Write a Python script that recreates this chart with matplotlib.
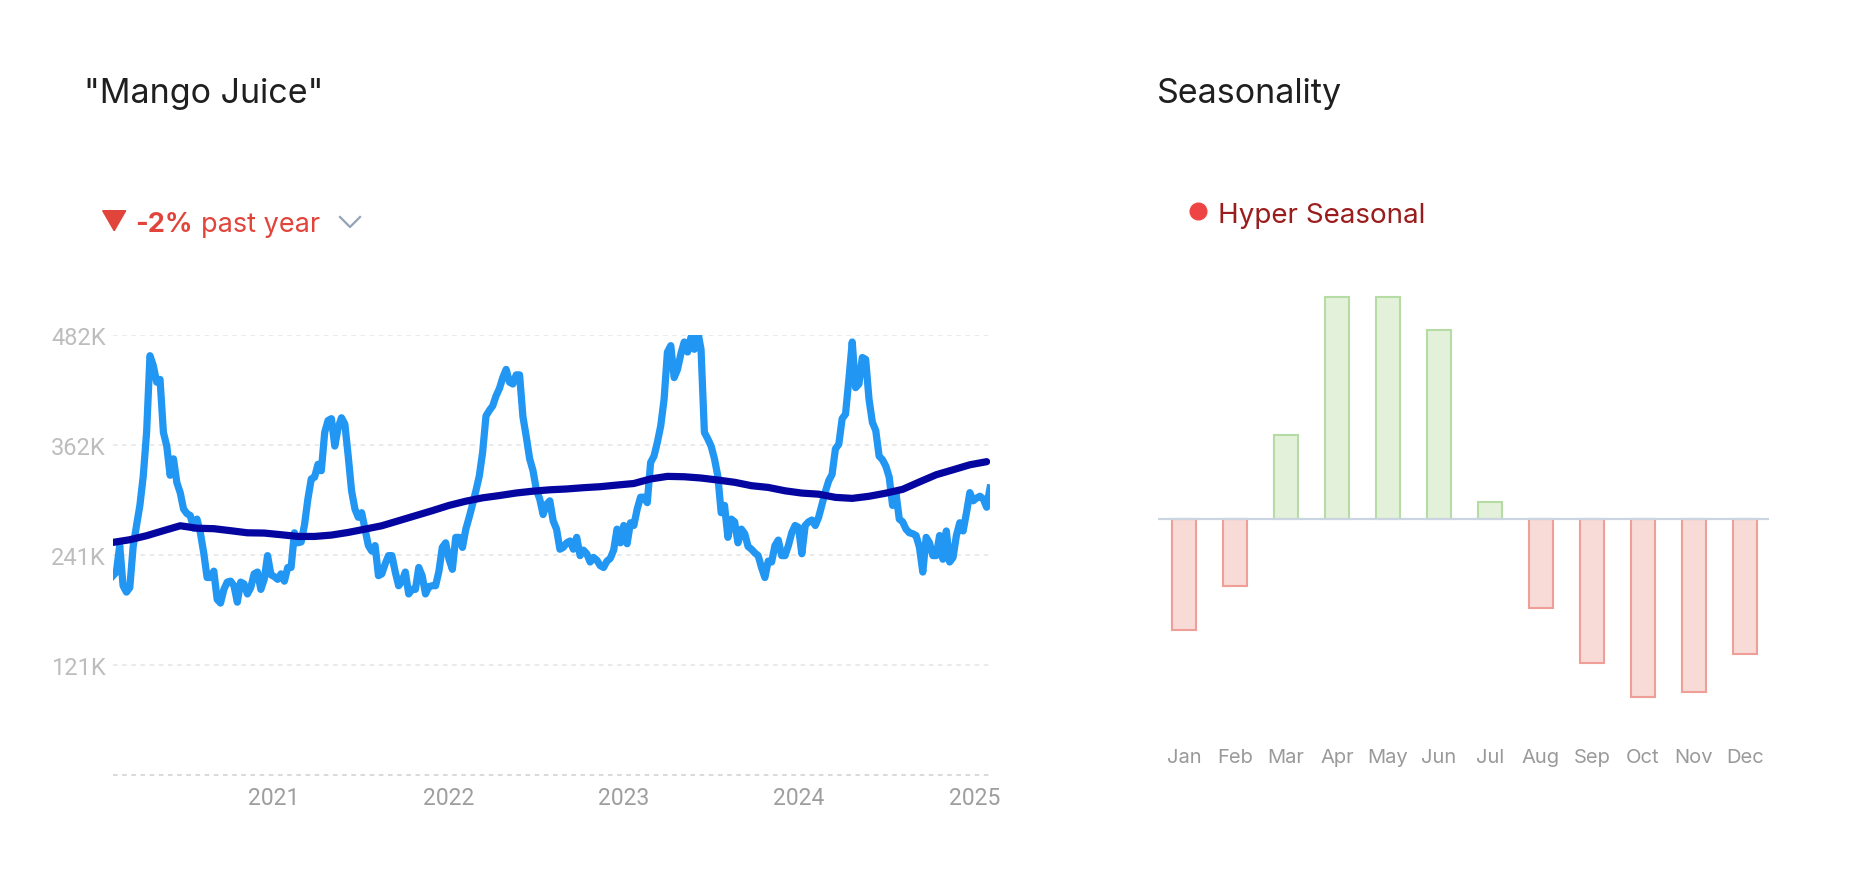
import numpy as np
import pandas as pd
import matplotlib
matplotlib.use("Agg")
import matplotlib.pyplot as plt
import matplotlib.dates as mdates
from matplotlib.patches import Polygon
from matplotlib.lines import Line2D

# --- Data ---
# weekly search volume, in thousands
weekly_volume = [
    218, 222, 251, 207, 200, 205, 250, 273, 295, 327, 375, 459, 448, 430, 433, 375,
    360, 328, 346, 320, 309, 291, 286, 284, 270, 280, 265, 243, 216, 216, 223, 192,
    188, 203, 211, 212, 207, 189, 211, 209, 198, 205, 220, 222, 203, 214, 240, 219,
    217, 214, 220, 212, 227, 227, 265, 254, 255, 274, 302, 324, 326, 340, 333, 375,
    388, 390, 360, 380, 391, 384, 349, 311, 291, 282, 287, 269, 251, 245, 251, 218,
    220, 231, 240, 240, 222, 207, 212, 222, 198, 203, 203, 227, 218, 198, 206, 207,
    207, 223, 249, 254, 236, 225, 260, 260, 249, 269, 282, 296, 311, 327, 353, 393,
    399, 404, 415, 423, 435, 444, 430, 428, 438, 438, 392, 370, 346, 333, 312, 302,
    285, 296, 300, 278, 269, 247, 249, 254, 256, 247, 260, 240, 246, 242, 233, 238,
    235, 229, 227, 234, 237, 246, 269, 254, 273, 253, 276, 273, 291, 304, 304, 298,
    342, 349, 364, 382, 411, 463, 470, 435, 444, 461, 474, 463, 479, 466, 486, 466,
    375, 368, 360, 346, 327, 287, 295, 260, 280, 277, 254, 269, 264, 250, 247, 243,
    240, 227, 216, 234, 233, 251, 257, 240, 240, 251, 265, 273, 271, 242, 273, 277,
    279, 273, 282, 296, 310, 322, 329, 357, 362, 390, 395, 433, 474, 424, 428, 457,
    455, 411, 386, 377, 349, 345, 338, 326, 295, 309, 280, 277, 269, 265, 264, 262,
    249, 222, 260, 254, 240, 240, 262, 236, 267, 233, 238, 262, 276, 267, 287, 309,
    300, 303, 305, 302, 293, 314,
]
# smoothed trend, one value every 5 weeks
trend_volume = [
    254.5, 257.4, 261.8, 267.3, 272.7, 270.0, 269.5, 267.3, 265.0, 264.7, 262.9,
    261.0, 261.0, 262.5, 265.4, 269.0, 272.7, 278.2, 283.7, 289.2, 295.0, 299.6,
    303.3, 305.8, 308.6, 310.6, 312.1, 313.0, 314.4, 315.5, 317.3, 319.0, 324.0,
    326.8, 326.4, 325.0, 322.8, 320.3, 316.6, 314.7, 311.0, 308.5, 307.3, 303.8,
    302.7, 305.0, 308.4, 312.6, 320.7, 328.6, 334.0, 339.5, 342.9,
]
ytick_values = [120.5, 241, 361.5, 482]
ytick_labels = ["121K", "241K", "362K", "482K"]

months = ["Jan", "Feb", "Mar", "Apr", "May", "Jun",
          "Jul", "Aug", "Sep", "Oct", "Nov", "Dec"]
seasonal_index = [-25.0, -15.1, 18.9, 50.0, 50.0, 42.6,
                  3.8, -20.0, -32.4, -40.1, -38.9, -30.3]

dates = pd.date_range("2020-02-02", periods=len(weekly_volume), freq="7D")
trend_dates = dates[::5][:len(trend_volume)]

# --- Figure ---
W, H = 1854, 878
fig = plt.figure(figsize=(W / 100, H / 100), dpi=100)
fig.patch.set_facecolor("white")


def px(x, y):
    """pixel (from top-left) -> figure fraction"""
    return x / W, 1 - y / H


def axes_box(x0, y0, x1, y1):
    return [x0 / W, 1 - y1 / H, (x1 - x0) / W, (y1 - y0) / H]


TITLE_FONT = "Inter"
NUM_FONT = "Roboto"

# titles
fig.text(*px(84, 103), '"Mango Juice"', fontsize=24.5, family=TITLE_FONT,
         color="#1f1f1f", va="baseline", ha="left")
fig.text(*px(1157, 103), "Seasonality", fontsize=24.5, family=TITLE_FONT,
         color="#1f1f1f", va="baseline", ha="left")

# "-2% past year" badge
red = "#e0443a"
tri = Polygon([px(102.7, 211.7), px(125.7, 211.7), px(114.2, 231.7)],
              closed=True, transform=fig.transFigure, color=red)
fig.patches.append(tri)
fig.text(*px(135, 231.7), "-2%", fontsize=19.5, family=TITLE_FONT, weight="bold",
         color=red, va="baseline")
fig.text(*px(201, 231.7), "past year", fontsize=19.5, family=TITLE_FONT,
         color=red, va="baseline")
chev = Line2D([340 / W, 350 / W, 360 / W], [1 - 218 / H, 1 - 228 / H, 1 - 218 / H],
              transform=fig.transFigure, color="#94a3b8", lw=1.6)
fig.lines.append(chev)

# --- Left: time series ---
ax = fig.add_axes(axes_box(113, 335.7, 990, 775.7))
ax.plot(dates, weekly_volume, color="#2196f3", lw=5.2, solid_joinstyle="round", zorder=3)
ax.plot(trend_dates, trend_volume, color="#0505a0", lw=5.2, solid_capstyle="round", zorder=4)

ax.set_xlim(dates[0], dates[-1])
ax.set_ylim(0, 482)
ax.set_yticks(ytick_values)
ax.set_yticklabels(ytick_labels)
for v in ytick_values:
    ax.axhline(v, color="#e4e4e4", lw=1.1, ls=(0, (3, 3)), zorder=1)
ax.axhline(0, color="#cfcfcf", lw=1.1, ls=(0, (3, 3)), zorder=1, clip_on=False)

ax.xaxis.set_major_locator(mdates.YearLocator())
ax.xaxis.set_major_formatter(mdates.DateFormatter("%Y"))
ax.tick_params(axis="x", length=0, pad=8, labelsize=16.5, labelcolor="#9e9e9e")
ax.tick_params(axis="y", length=0, pad=5, labelsize=17, labelcolor="#bdbdbd")
for lab in ax.get_xticklabels() + ax.get_yticklabels():
    lab.set_family(NUM_FONT)
for s in ax.spines.values():
    s.set_visible(False)

# --- Right: seasonality bars ---
dot = Line2D([1198.3 / W], [1 - 212.3 / H], transform=fig.transFigure, marker="o",
             ms=12, color="#ef4444", lw=0)
fig.lines.append(dot)
fig.text(*px(1218, 222.7), "Hyper Seasonal", fontsize=20, family=TITLE_FONT,
         color="#9b1c1c", va="baseline")

ax2 = fig.add_axes(axes_box(1158.3, 290, 1769.3, 720))
x = np.arange(len(months))
fills = ["#e3f1da" if v >= 0 else "#f8dad7" for v in seasonal_index]
edges = ["#b5dca5" if v >= 0 else "#ee9f97" for v in seasonal_index]
ax2.bar(x, seasonal_index, width=0.457, color=fills, edgecolor=edges, linewidth=1.5, zorder=2)
ax2.axhline(0, color="#cbd5e1", lw=1.6, zorder=3)

ax2.set_xlim(-0.504, 11.476)
ax2.set_ylim(-45.05, 51.8)
ax2.set_xticks(x)
ax2.set_xticklabels(months, family=TITLE_FONT)
ax2.set_yticks([])
ax2.tick_params(axis="x", length=0, pad=21, labelsize=14.5, labelcolor="#9a9a9a")
for s in ax2.spines.values():
    s.set_visible(False)

fig.savefig("out.png", dpi=100)
print("saved out.png")
